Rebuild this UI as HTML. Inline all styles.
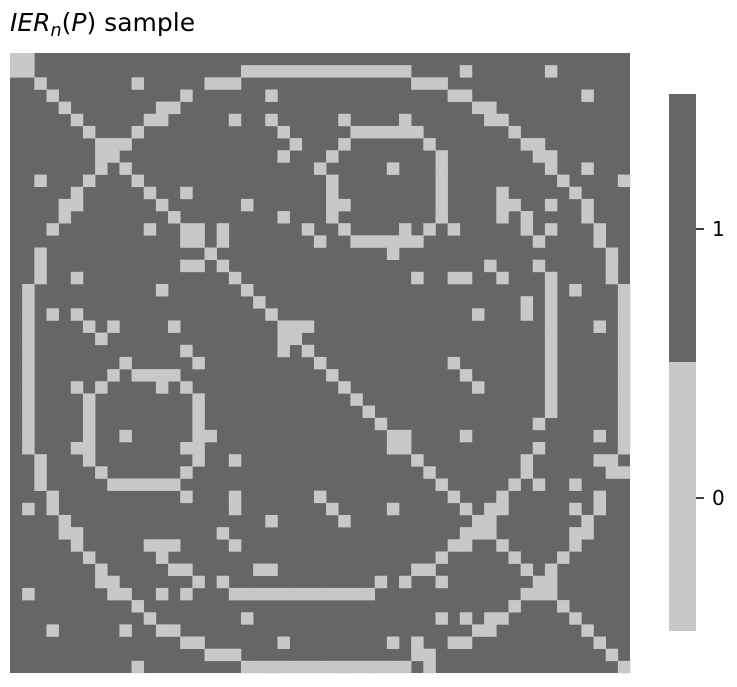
<!DOCTYPE html>
<html><head><meta charset="utf-8"><style>
body{margin:0;background:#fff;width:737px;height:683px;overflow:hidden;font-family:"DejaVu Sans","Liberation Sans",sans-serif}
</style></head><body>
<svg id="chart" width="737" height="683" xmlns="http://www.w3.org/2000/svg">
<text x="10" y="31" font-size="25" font-family="DejaVu Sans, Liberation Sans, sans-serif" fill="#000"><tspan font-style="italic">IER</tspan><tspan font-style="italic" font-size="17.5" dy="5">n</tspan><tspan dy="-5">(</tspan><tspan font-style="italic">P</tspan><tspan>) sample</tspan></text>
<g id="cells"></g>
<g font-family="DejaVu Sans, Liberation Sans, sans-serif">
<rect x="669" y="94" width="27" height="269" fill="#666666"/>
<rect x="669" y="362" width="27" height="269" fill="#c8c8c8"/>
<line x1="696" y1="229" x2="704" y2="229" stroke="#000" stroke-width="1.5"/>
<line x1="696" y1="498" x2="704" y2="498" stroke="#000" stroke-width="1.5"/>
<text x="712" y="236" font-size="20" fill="#000">1</text>
<text x="712" y="505" font-size="20" fill="#000">0</text>
</g>
</svg>
<script>
const N = 51;
// light (value 0) cells per row; matrix is symmetric
const lightRows = [
[0,1],
[0,1,19,20,21,22,23,24,25,26,27,28,29,30,31,32,37,44],
[2,10,16,17,18,33,34,35],
[3,14,21,36,37,47],
[4,12,13,38,39],
[5,11,12,18,21,27,32,39,40],
[6,10,22,28,29,30,31,32,33,41],
[7,8,9,23,27,34,42,43],
[7,8,22,26,35,43,44],
[7,9,25,31,35,44,47],
[2,6,10,26,35,45,50],
[5,11,14,26,35,40,46],
[4,5,12,19,26,27,35,40,41,44,47],
[4,13,22,26,35,40,42,47],
[3,11,14,15,17,24,27,32,34,36,42,44,48],
[14,15,17,25,28,29,30,31,32,33,43,48],
[2,16,31,49],
[2,14,15,17,39,43,49],
[2,5,18,33,36,37,40,44,49],
[1,12,19,44,46,50],
[1,20,42,44,50],
[1,3,5,21,38,42,44,50],
[1,6,8,13,22,23,24,44,48,50],
[1,7,22,23,44,50],
[1,14,22,24,44,50],
[1,9,15,25,36,44,50],
[26,37,44,50],
[27,38,44,50],
[28,44,50],
[29,44,50],
[30,43,50],
[31,32,37,48,50],
[31,32,43,50],
[33,42,48,49],
[34,42,49,50],
[35,41,43,46],
[25,36,40,48],
[26,31,37,39,40,46,48],
[27,38,39,47],
[37,38,39,46,47],
[36,37,40,46],
[35,41,45],
[33,34,42,44],
[30,32,35,43,44],
[25,26,27,28,29,42,43,44],
[41,45],
[35,37,39,40,46],
[38,39,47],
[31,33,36,37,48],
[33,34,49],
[25,26,27,28,29,30,31,32,34,50]
];
const colorHigh = "#666666", colorLow = "#c8c8c8";
const x0 = 10, y0 = 53, size = 620;
const cell = size / N;
function xScale(c){ return x0 + c * cell; }
function yScale(r){ return y0 + r * cell; }
const M = [];
for (let r = 0; r < N; r++) { M.push(new Array(N).fill(1)); }
lightRows.forEach((cols, r) => cols.forEach(c => { M[r][c] = 0; M[c][r] = 0; }));
const g = document.getElementById('cells');
const ns = "http://www.w3.org/2000/svg";
const bg = document.createElementNS(ns, 'rect');


bg.setAttribute('x', x0); bg.setAttribute('y', y0);
bg.setAttribute('width', size); bg.setAttribute('height', size);
bg.setAttribute('fill', colorHigh);
g.appendChild(bg);
for (let r = 0; r < N; r++) {
  for (let c = 0; c < N; c++) {
    if (M[r][c] === 0) {
      const rect = document.createElementNS(ns, 'rect');
      
      
      const xa = xScale(c), ya = yScale(r);
      rect.setAttribute('x', xa.toFixed(2));
      rect.setAttribute('y', ya.toFixed(2));
      rect.setAttribute('width', (cell + 0.3).toFixed(2));
      rect.setAttribute('height', (cell + 0.3).toFixed(2));
      rect.setAttribute('fill', colorLow);
      g.appendChild(rect);
    }
  }
}
</script>
</body></html>
